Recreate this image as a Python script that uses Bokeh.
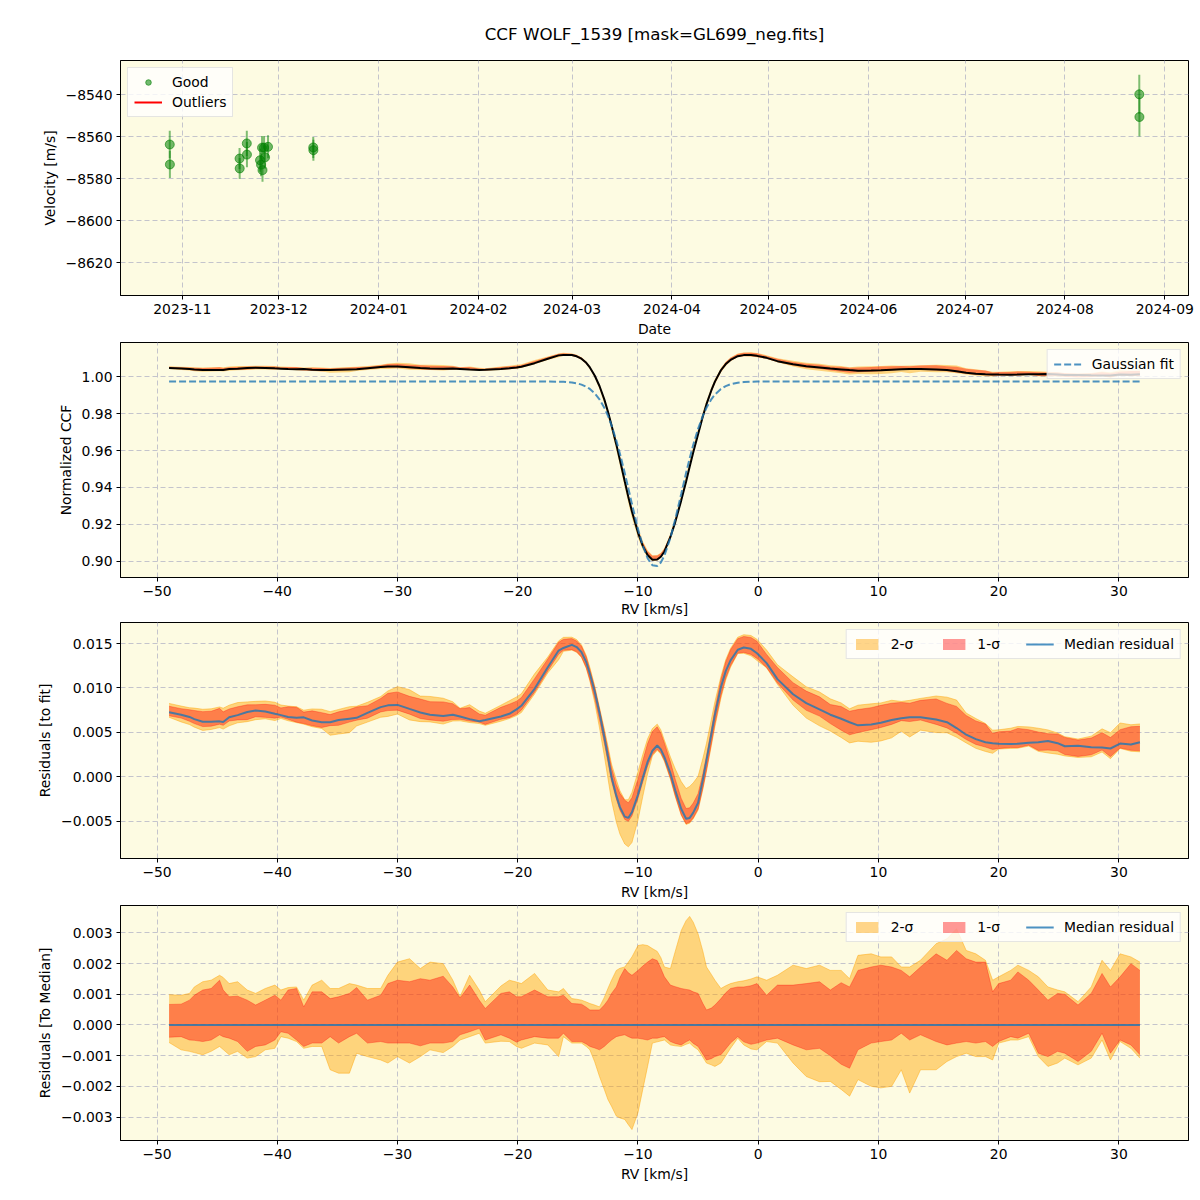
import numpy as np
import pandas as pd
from bokeh.plotting import figure
from bokeh.layouts import column
from bokeh.models import (Range1d, FixedTicker, CustomJSTickFormatter, DatetimeTickFormatter,
                          Legend, LegendItem)
from bokeh.embed import file_html
from bokeh.resources import INLINE

TITLE = "CCF WOLF_1539 [mask=GL699_neg.fits]"

# ---------------- Panel 1: RV time series ----------------
obs_dates = ["2023-10-28 03:00", "2023-10-28 04:00",
             "2023-11-18 19:00", "2023-11-18 20:00",
             "2023-11-21 01:00", "2023-11-21 02:00",
             "2023-11-25 03:30", "2023-11-25 11:00", "2023-11-25 22:00", "2023-11-25 18:30",
             "2023-11-26 17:00", "2023-11-26 09:30", "2023-11-27 15:00",
             "2023-12-11 16:00", "2023-12-11 17:00",
             "2024-08-24 02:00", "2024-08-24 03:00"]
obs_vel = [-8563.8, -8573.3,
           -8570.5, -8575.2,
           -8563.3, -8568.6,
           -8571.3, -8573.4, -8576.0, -8565.3,
           -8569.9, -8565.3, -8564.9,
           -8565.2, -8566.5,
           -8539.9, -8550.7]
obs_err = [6.5, 6.5,
           5.0, 5.0,
           6.0, 6.0,
           5.5, 5.5, 5.5, 5.5,
           5.5, 5.5, 5.5,
           5.0, 5.0,
           9.3, 9.3]
date_ticks = ["2023-11-01", "2023-12-01", "2024-01-01", "2024-02-01", "2024-03-01",
              "2024-04-01", "2024-05-01", "2024-06-01", "2024-07-01", "2024-08-01", "2024-09-01"]
vel_ticks = [-8620, -8600, -8580, -8560, -8540]
date_range = ("2023-10-12 20:00", "2024-09-08 08:40")
vel_range = (-8635.7, -8523.8)

# ---------------- CCF / residual data (RV grid in km/s) ----------------
rv_grid = [-49.0, -48.0, -47.3, -46.9, -46.2, -45.5, -44.8, -44.5, -44.0, -43.3,
           -42.5, -41.8, -41.0, -40.2, -39.7, -39.1, -38.4, -37.8, -37.1, -36.3,
           -35.6, -34.9, -34.0, -33.4, -32.5, -31.4, -30.8, -30.0, -29.0, -28.1,
           -27.3, -26.2, -25.4, -24.8, -24.0, -23.2, -22.7, -21.4, -20.7, -20.1,
           -19.7, -18.6, -17.5, -16.6, -16.2, -15.5, -15.1, -14.7, -14.3, -14.0,
           -13.6, -13.2, -12.8, -12.5, -12.2, -11.8, -11.5, -11.1, -10.8, -10.5,
           -10.0, -9.6, -9.2, -8.8, -8.4, -8.1, -7.8, -7.3, -6.9, -6.4,
           -6.0, -5.7, -5.4, -5.0, -4.6, -4.3, -3.9, -3.6, -3.1, -2.7,
           -2.3, -1.7, -1.2, -0.6, -0.1, 0.7, 1.6, 2.9, 4.0, 5.1,
           6.0, 6.9, 7.6, 8.3, 9.4, 10.2, 11.1, 11.9, 12.6, 13.5,
           14.8, 15.7, 16.5, 17.3, 18.1, 18.9, 19.5, 20.0, 21.0, 21.6,
           22.5, 23.3, 24.1, 24.9, 25.5, 26.6, 27.7, 28.6, 29.3, 30.1,
           31.0, 31.75]

# median residual to the Gaussian fit (units of 1e-3)
median_resid_e3 = [7.28, 7.00, 6.75, 6.50, 6.20, 6.20, 6.25, 6.18, 6.72, 6.95,
                   7.30, 7.47, 7.35, 7.10, 6.95, 6.75, 6.65, 6.70, 6.35, 6.15,
                   6.15, 6.40, 6.55, 6.65, 7.20, 7.85, 8.05, 8.10, 7.65, 7.25,
                   7.00, 6.85, 6.99, 6.80, 6.50, 6.27, 6.40, 6.80, 7.10, 7.60,
                   8.00, 9.91, 12.34, 14.21, 14.50, 14.85, 14.60, 14.03, 12.90, 11.60,
                   9.60, 7.20, 4.50, 2.30, 0.00, -2.10, -3.39, -4.45, -4.60, -3.95,
                   -2.00, -0.10, 1.70, 2.95, 3.54, 3.10, 2.23, 0.40, -1.50, -3.60,
                   -4.70, -4.60, -4.00, -2.90, -0.30, 1.90, 4.80, 7.00, 10.10, 11.90,
                   13.10, 14.30, 14.55, 14.40, 13.90, 12.80, 11.00, 9.30, 8.30, 7.60,
                   7.00, 6.54, 6.15, 5.80, 5.90, 6.10, 6.40, 6.60, 6.72, 6.72,
                   6.45, 6.16, 5.50, 4.75, 4.25, 3.90, 3.80, 3.73, 3.70, 3.73,
                   3.85, 3.91, 4.05, 3.80, 3.45, 3.50, 3.35, 3.30, 3.20, 3.75,
                   3.65, 3.91]

# spread around the median (units of 1e-3)
sig2_hi_e3 = [0.99, 0.97, 1.03, 1.24, 1.41, 1.46, 1.62, 1.55, 1.35, 1.41,
              1.14, 1.03, 1.19, 1.30, 1.14, 1.22, 1.24, 0.81, 1.30, 1.46,
              1.19, 1.19, 1.35, 1.30, 1.19, 1.19, 1.62, 2.05, 2.16, 1.84,
              2.05, 2.00, 1.46, 0.92, 1.62, 1.14, 0.76, 1.27, 1.46, 1.40,
              1.35, 1.68, 1.14, 1.08, 1.19, 0.86, 0.84, 0.81, 0.75, 0.70,
              0.65, 0.59, 0.90, 1.19, 1.46, 1.78, 1.85, 1.89, 2.05, 2.22,
              2.59, 2.62, 2.59, 2.49, 2.40, 2.20, 1.89, 1.84, 2.40, 3.08,
              3.40, 3.54, 3.35, 2.97, 2.40, 1.89, 1.65, 1.46, 1.19, 1.28,
              1.35, 1.41, 1.44, 1.50, 1.57, 1.46, 1.62, 1.95, 1.84, 1.95,
              1.78, 1.78, 1.51, 2.27, 2.32, 2.22, 2.22, 1.89, 1.89, 2.11,
              2.65, 2.81, 3.14, 2.43, 2.32, 2.11, 1.46, 1.57, 1.78, 1.95,
              1.78, 1.57, 1.24, 1.14, 1.08, 0.76, 1.24, 2.11, 1.78, 2.32,
              2.22, 2.05]
sig1_hi_e3 = [0.67, 0.68, 0.81, 0.97, 1.14, 1.19, 1.46, 1.14, 0.92, 0.94,
              0.81, 0.65, 0.81, 0.97, 0.81, 1.14, 1.19, 0.59, 1.08, 1.08,
              0.86, 0.92, 1.03, 1.22, 0.81, 0.97, 1.35, 1.46, 1.41, 1.51,
              1.46, 1.59, 1.24, 0.88, 1.30, 0.81, 0.54, 1.03, 1.08, 0.92,
              0.92, 1.14, 0.92, 0.92, 0.97, 0.70, 0.69, 0.68, 0.58, 0.49,
              0.49, 0.49, 0.65, 0.81, 1.03, 1.24, 1.55, 1.84, 1.70, 1.62,
              1.78, 1.92, 2.05, 2.16, 2.10, 1.85, 1.57, 1.30, 1.25, 1.19,
              1.16, 1.14, 1.08, 1.03, 0.70, 0.49, 0.55, 0.65, 0.86, 1.05,
              1.19, 1.24, 1.24, 1.28, 1.35, 0.97, 1.30, 1.30, 1.35, 1.41,
              1.14, 1.38, 1.24, 1.78, 1.89, 1.95, 1.89, 1.78, 1.57, 1.89,
              2.32, 2.11, 2.43, 2.16, 2.05, 2.05, 1.08, 1.35, 1.46, 1.73,
              1.46, 1.14, 0.81, 1.03, 1.00, 0.65, 1.03, 1.68, 1.24, 1.57,
              2.00, 1.78]
sig1_lo_e3 = [-0.40, -0.38, -0.49, -0.50, -0.54, -0.49, -0.32, -0.38, -0.43, -0.54,
              -0.86, -0.70, -0.65, -0.49, -0.22, -0.27, -0.49, -0.70, -0.59, -0.59,
              -0.38, -0.59, -0.38, -0.27, -0.59, -0.54, -0.59, -0.59, -0.59, -0.68,
              -0.59, -0.59, -0.54, -0.32, -0.22, -0.11, -0.49, -0.32, -0.43, -0.56,
              -0.49, -0.38, -0.43, -0.43, -0.27, -0.54, -0.54, -0.54, -0.62, -0.70,
              -0.75, -0.81, -0.70, -0.59, -0.49, -0.38, -0.35, -0.32, -0.38, -0.43,
              -0.43, -0.46, -0.49, -0.43, -0.43, -0.40, -0.38, -0.54, -0.60, -0.65,
              -0.55, -0.49, -0.60, -0.70, -0.95, -1.14, -1.10, -1.03, -0.97, -0.78,
              -0.59, -0.38, -0.55, -0.63, -0.59, -0.49, -0.43, -0.65, -0.81, -0.76,
              -1.00, -1.28, -1.41, -0.81, -0.59, -0.54, -0.49, -0.27, -0.49, -0.32,
              -0.54, -0.65, -0.59, -0.54, -0.59, -0.54, -0.70, -0.54, -0.38, -0.43,
              -0.27, -0.92, -1.03, -0.86, -0.92, -1.19, -0.86, -0.27, -0.92, -0.49,
              -0.65, -0.97]
sig2_lo_e3 = [-0.57, -0.81, -0.86, -0.90, -0.97, -0.86, -0.70, -0.80, -0.97, -0.86,
              -1.08, -1.03, -0.81, -0.76, -0.38, -0.43, -0.54, -0.76, -0.70, -0.70,
              -1.46, -1.57, -1.57, -0.92, -1.03, -1.14, -1.24, -1.03, -1.24, -1.03,
              -0.81, -0.90, -0.70, -0.49, -0.38, -0.27, -0.59, -0.53, -0.54, -0.70,
              -0.76, -0.59, -0.65, -1.03, -0.38, -0.59, -0.59, -0.59, -0.70, -0.81,
              -1.20, -1.68, -2.10, -2.43, -2.65, -2.97, -3.03, -3.08, -3.25, -3.41,
              -2.86, -2.10, -1.35, -0.59, -0.55, -0.52, -0.49, -0.65, -0.68, -0.70,
              -0.63, -0.59, -0.70, -0.81, -1.05, -1.24, -1.30, -1.35, -1.24, -1.00,
              -0.76, -0.43, -0.65, -0.78, -0.81, -0.54, -0.59, -1.24, -1.68, -1.85,
              -1.84, -2.10, -2.32, -1.78, -2.00, -2.05, -2.00, -1.46, -2.22, -1.46,
              -1.46, -1.19, -1.03, -0.92, -1.03, -1.03, -1.14, -0.59, -0.49, -0.49,
              -0.38, -1.03, -1.35, -1.24, -1.08, -1.30, -1.08, -0.49, -1.14, -0.54,
              -0.76, -1.08]

# Gaussian fit parameters
gauss_continuum = 0.9973
gauss_depth = 0.1000
gauss_center = -8.55
gauss_sigma = 2.15

rv_ticks = [-50, -40, -30, -20, -10, 0, 10, 20, 30]
ccf_ticks = [0.90, 0.92, 0.94, 0.96, 0.98, 1.00]
resfit_ticks = [-0.005, 0.000, 0.005, 0.010, 0.015]
resmed_ticks = [-0.003, -0.002, -0.001, 0.000, 0.001, 0.002, 0.003]
rv_range = (-53.04, 35.79)
ccf_range = (0.89135, 1.01838)
resfit_range = (-0.00916, 0.01736)
resmed_range = (-0.003766, 0.003896)

# ---------------- derived arrays ----------------
rv = np.array(rv_grid)
med = np.array(median_resid_e3) * 1e-3
s2h = np.array(sig2_hi_e3) * 1e-3
s1h = np.array(sig1_hi_e3) * 1e-3
s1l = np.array(sig1_lo_e3) * 1e-3
s2l = np.array(sig2_lo_e3) * 1e-3
gauss = gauss_continuum - gauss_depth * np.exp(-(rv - gauss_center) ** 2 / (2 * gauss_sigma ** 2))
ccf = gauss + med

FONT = "DejaVu Sans"
FS = "13.9px"
BG = "#fdfbe2"
C_ORANGE = "#ffa500"
C_RED = "#ff0000"
C_BLUE = "#1f77b4"


def minus_fmt(dec):
    return CustomJSTickFormatter(code="return (tick < 0 ? '\\u2212' : '') + Math.abs(tick).toFixed(%d);" % dec)


def style(p, xlabel, ylabel, label_standoff=4):
    p.background_fill_color = BG
    p.border_fill_color = "white"
    p.outline_line_color = "black"
    p.outline_line_width = 1
    p.outline_line_alpha = 1.0
    for ax in p.axis:
        ax.axis_line_color = "black"
        ax.major_tick_line_color = "black"
        ax.major_tick_out = 4
        ax.major_tick_in = 0
        ax.minor_tick_line_color = None
        ax.major_label_text_font = FONT
        ax.major_label_text_font_size = FS
        ax.major_label_text_color = "black"
        ax.axis_label_text_font = FONT
        ax.axis_label_text_font_size = FS
        ax.axis_label_text_font_style = "normal"
        ax.axis_label_text_color = "black"
        ax.major_label_standoff = 4
        ax.axis_label_standoff = 5
    p.xaxis.axis_label_standoff = label_standoff
    p.xaxis.axis_label = xlabel
    p.yaxis.axis_label = ylabel
    for g in p.grid:
        g.grid_line_color = "#c4c4cc"
        g.grid_line_dash = "5 3"
        g.grid_line_width = 1


def style_legend(lg):
    lg.label_text_font = FONT
    lg.label_text_font_size = FS
    lg.label_text_color = "black"
    lg.background_fill_color = "white"
    lg.background_fill_alpha = 0.8
    lg.border_line_color = "#cccccc"
    lg.border_line_width = 1
    lg.glyph_width = 28
    lg.glyph_height = 14
    lg.label_standoff = 10
    lg.padding = 6
    lg.margin = 7
    lg.spacing = 4


common = dict(frame_width=1068, output_backend="svg", toolbar_location=None,
              min_border_left=120, min_border_right=12)

# ---------------- Figure 1 ----------------
t = pd.to_datetime(obs_dates)
vel = np.array(obs_vel)
err = np.array(obs_err)
p1 = figure(frame_height=235, x_axis_type="datetime",
            x_range=Range1d(pd.Timestamp(date_range[0]), pd.Timestamp(date_range[1])),
            y_range=Range1d(*vel_range),
            min_border_top=60, min_border_bottom=47, **common)
style(p1, "Date", "Velocity [m/s]")
p1.segment(x0=t, y0=vel - err, x1=t, y1=vel + err, line_color="green", line_alpha=0.5, line_width=2)
r_good = p1.scatter(x=t, y=vel, size=9, marker="circle", fill_color="green", fill_alpha=0.55,
                    line_color="green", line_alpha=0.6)
# legend proxy for the (absent) outliers
r_out_l = p1.line(x=[np.nan], y=[np.nan], line_color="red", line_width=2)
p1.xaxis.ticker = FixedTicker(ticks=[pd.Timestamp(d).timestamp() * 1000 for d in date_ticks])
p1.xaxis.formatter = DatetimeTickFormatter(days="%Y-%m", months="%Y-%m", years="%Y-%m")
p1.yaxis.ticker = FixedTicker(ticks=vel_ticks)
p1.yaxis.formatter = minus_fmt(0)
lg1 = Legend(items=[LegendItem(label="Good", renderers=[r_good]),
                    LegendItem(label="Outliers", renderers=[r_out_l])],
             location="top_left")
style_legend(lg1)
p1.add_layout(lg1)
p1.title.text = TITLE
p1.title.align = "center"
p1.title.text_font = FONT
p1.title.text_font_size = "16.7px"
p1.title.text_font_style = "normal"
p1.title.text_color = "black"
try:
    p1.title.standoff = 34
except Exception:
    pass

# ---------------- Figure 2 ----------------
p2 = figure(frame_height=235, x_range=Range1d(*rv_range), y_range=Range1d(*ccf_range),
            min_border_top=0, min_border_bottom=45, **common)
style(p2, "RV [km/s]", "Normalized CCF", label_standoff=2)
p2.varea(x=rv, y1=ccf + s2l, y2=ccf + s2h, fill_color=C_ORANGE, fill_alpha=0.45)
p2.varea(x=rv, y1=ccf + s1l, y2=ccf + s1h, fill_color=C_RED, fill_alpha=0.4)
p2.line(x=rv, y=ccf, line_color="black", line_width=2)
r_g = p2.line(x=rv, y=gauss, line_color=C_BLUE, line_alpha=0.8, line_width=2, line_dash="7 3")
p2.xaxis.ticker = FixedTicker(ticks=rv_ticks)
p2.xaxis.formatter = minus_fmt(0)
p2.yaxis.ticker = FixedTicker(ticks=ccf_ticks)
p2.yaxis.formatter = minus_fmt(2)
lg2 = Legend(items=[LegendItem(label="Gaussian fit", renderers=[r_g])], location="top_right")
style_legend(lg2)
p2.add_layout(lg2)


def band_panel(center, frame_h, yr, ticks, ylabel, top, bottom):
    p = figure(frame_height=frame_h, x_range=Range1d(*rv_range), y_range=Range1d(*yr),
               min_border_top=top, min_border_bottom=bottom, **common)
    style(p, "RV [km/s]", ylabel)
    r2 = p.varea(x=rv, y1=center + s2l, y2=center + s2h, fill_color=C_ORANGE, fill_alpha=0.45)
    p.line(x=rv, y=center + s2h, line_color=C_ORANGE, line_alpha=0.45, line_width=1)
    p.line(x=rv, y=center + s2l, line_color=C_ORANGE, line_alpha=0.45, line_width=1)
    r1 = p.varea(x=rv, y1=center + s1l, y2=center + s1h, fill_color=C_RED, fill_alpha=0.4)
    p.line(x=rv, y=center + s1h, line_color=C_RED, line_alpha=0.3, line_width=1)
    p.line(x=rv, y=center + s1l, line_color=C_RED, line_alpha=0.3, line_width=1)
    rm = p.line(x=rv, y=center, line_color=C_BLUE, line_alpha=0.8, line_width=2)
    p.xaxis.ticker = FixedTicker(ticks=rv_ticks)
    p.xaxis.formatter = minus_fmt(0)
    p.yaxis.ticker = FixedTicker(ticks=ticks)
    p.yaxis.formatter = minus_fmt(3)
    lg = Legend(items=[LegendItem(label="2-σ", renderers=[r2]),
                       LegendItem(label="1-σ", renderers=[r1]),
                       LegendItem(label="Median residual", renderers=[rm])],
                location="top_right", orientation="horizontal")
    style_legend(lg)
    lg.spacing = 26
    p.add_layout(lg)
    return p


p3 = band_panel(med, 236, resfit_range, resfit_ticks, "Residuals [to fit]", 0, 47)
p4 = band_panel(med - med, 235, resmed_range, resmed_ticks, "Residuals [To Median]", 0, 60)

layout = column(p1, p2, p3, p4, spacing=0)
open("out.html", "w").write(file_html(layout, INLINE))
